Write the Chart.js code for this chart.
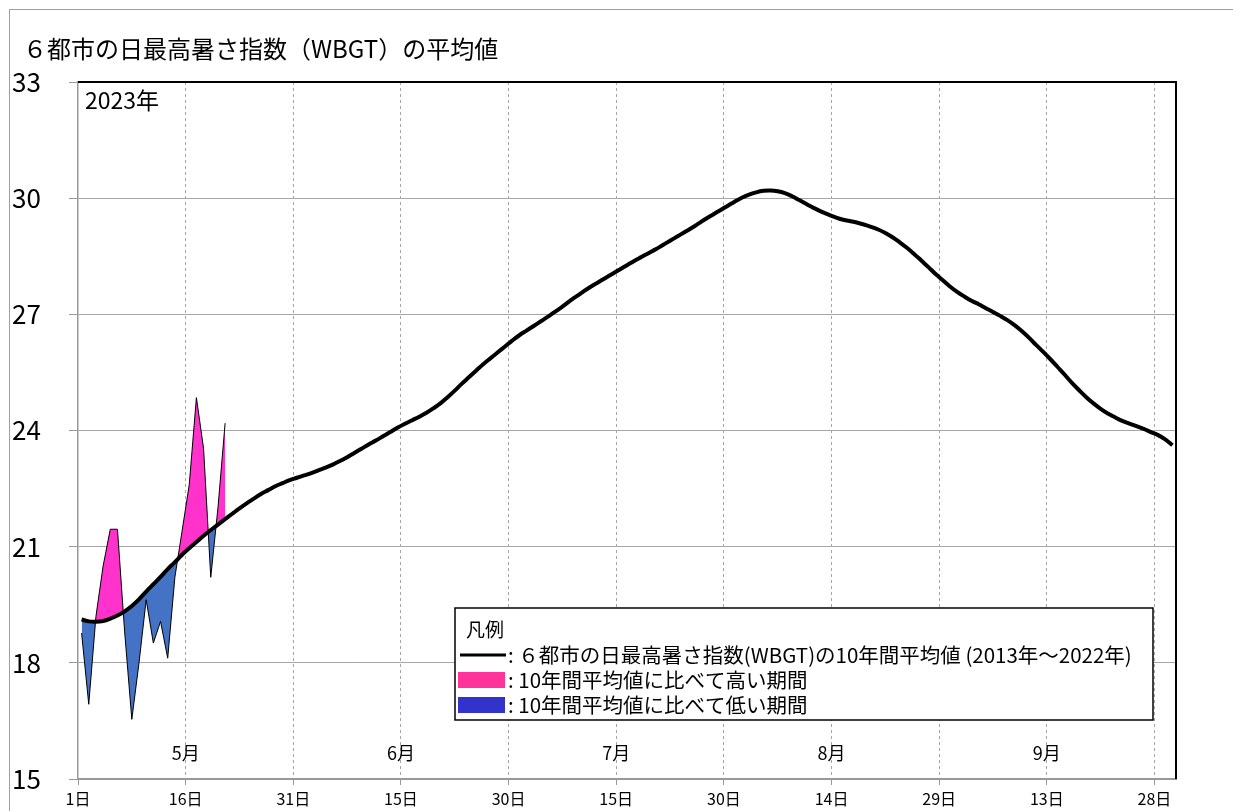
<!DOCTYPE html>
<html><head><meta charset="utf-8">
<script src="https://cdn.jsdelivr.net/npm/chart.js@4"></script>
<style>
html,body{margin:0;padding:0;background:#fff;overflow:hidden;}
#wrap{position:relative;width:1233px;height:811px;}
#frame{position:absolute;left:9px;top:9px;width:1300px;height:900px;border:1px solid #a0a0a0;pointer-events:none;}
canvas{position:absolute;left:0;top:0;}
</style></head><body>
<div id="wrap"><canvas id="c" width="1233" height="811"></canvas><div id="frame"></div></div>
<script>
const titleText = '６都市の日最高暑さ指数（WBGT）の平均値';
const yearText = '2023年';
const tickLabels = ['1日','16日','31日','15日','30日','15日','30日','14日','29日','13日','28日'];
const monthLabels = ['5月','6月','7月','8月','9月'];
const legendTitle = '凡例';
const legendTexts = [
  ': ６都市の日最高暑さ指数(WBGT)の10年間平均値 (2013年～2022年)',
  ': 10年間平均値に比べて高い期間',
  ': 10年間平均値に比べて低い期間'
];
// 10-year average (2013-2022), daily from May 1 to Sep 30
const avgWBGT = [
  19.12,19.07,19.06,19.08,19.14,19.22,19.33,19.47,19.64,19.84,
  20.03,20.22,20.42,20.60,20.79,20.96,21.12,21.28,21.43,21.57,
  21.71,21.85,21.99,22.12,22.24,22.36,22.46,22.56,22.64,22.72,
  22.78,22.84,22.90,22.97,23.04,23.12,23.21,23.31,23.42,23.53,
  23.64,23.74,23.85,23.96,24.07,24.17,24.26,24.35,24.45,24.57,
  24.70,24.86,25.03,25.21,25.38,25.55,25.72,25.87,26.02,26.17,
  26.32,26.46,26.58,26.70,26.82,26.94,27.07,27.20,27.34,27.47,
  27.60,27.72,27.83,27.94,28.05,28.16,28.27,28.38,28.48,28.58,
  28.68,28.79,28.90,29.01,29.12,29.23,29.35,29.47,29.58,29.69,
  29.80,29.91,30.01,30.09,30.15,30.19,30.20,30.18,30.13,30.05,
  29.95,29.85,29.75,29.66,29.58,29.51,29.45,29.41,29.37,29.32,
  29.26,29.19,29.10,28.99,28.86,28.72,28.56,28.39,28.22,28.04,
  27.88,27.72,27.58,27.46,27.35,27.26,27.16,27.06,26.96,26.85,
  26.72,26.57,26.40,26.21,26.03,25.84,25.64,25.44,25.23,25.04,
  24.86,24.70,24.56,24.44,24.34,24.25,24.18,24.11,24.04,23.96,
  23.88,23.77,23.62
];
// 2023 daily values from May 1
const wbgt2023 = [
  18.77,16.93,19.20,20.50,21.45,21.45,18.80,16.54,18.00,19.63,
  18.51,19.07,18.12,20.21,21.40,22.60,24.85,23.53,20.21,22.00,
  24.19
];
const FONT = '"Noto Sans CJK JP","Noto Sans",sans-serif';

const textPlugin = {
  id: 'texts',
  afterDraw(chart) {
    const {ctx, chartArea: a, scales: {x}} = chart;
    ctx.save();
    ctx.strokeStyle = '#000'; ctx.lineWidth = 2;
    ctx.beginPath();
    ctx.moveTo(a.left, a.top); ctx.lineTo(a.right, a.top); ctx.lineTo(a.right, a.bottom);
    ctx.stroke();
    ctx.fillStyle = '#000'; ctx.textBaseline = 'middle'; ctx.textAlign = 'left';
    ctx.font = '24px ' + FONT;
    ctx.fillText(titleText, 23, 49);
    ctx.font = '23px ' + FONT;
    ctx.fillText(yearText, a.left + 7, 100);
    ctx.font = '18px ' + FONT; ctx.textAlign = 'center';
    monthLabels.forEach((m, k) => ctx.fillText(m, x.getPixelForValue((2 * k + 1) * 15), 753));
    // legend box
    ctx.fillStyle = '#fff'; ctx.fillRect(455, 608, 698, 112);
    ctx.strokeStyle = '#000'; ctx.lineWidth = 1.5; ctx.strokeRect(455, 608, 698, 112);
    ctx.fillStyle = '#000'; ctx.textAlign = 'left';
    ctx.font = '19px ' + FONT;
    ctx.fillText(legendTitle, 466, 630);
    ctx.lineWidth = 3; ctx.beginPath(); ctx.moveTo(460, 655); ctx.lineTo(506, 655); ctx.stroke();
    ctx.fillStyle = '#ff3399'; ctx.fillRect(458, 672, 47, 16);
    ctx.fillStyle = '#3333cc'; ctx.fillRect(458, 697, 47, 16);
    ctx.fillStyle = '#000'; ctx.font = '20.5px ' + FONT;
    ctx.fillText(legendTexts[0], 508, 655);
    ctx.fillText(legendTexts[1], 508, 680);
    ctx.fillText(legendTexts[2], 508, 705);
    ctx.restore();
  }
};

new Chart(document.getElementById('c'), {
  type: 'line',
  data: {
    datasets: [
      {
        label: '10年間平均値',
        data: avgWBGT.map((v, i) => ({x: i + 0.5, y: v})),
        borderColor: '#000', borderWidth: 4, pointRadius: 0, tension: 0.4,
        fill: false, order: 0
      },
      {
        label: '2023年',
        data: wbgt2023.map((v, i) => ({x: i + 0.5, y: v})),
        borderColor: '#000', borderWidth: 1, pointRadius: 0, tension: 0,
        fill: {target: 0, above: '#ff33cc', below: '#4472c4'}, order: 1
      }
    ]
  },
  options: {
    responsive: false, devicePixelRatio: 1, animation: false,
    layout: {padding: {top: 82, left: 12, right: 57, bottom: 0}},
    plugins: {legend: {display: false}, tooltip: {enabled: false}, title: {display: false}},
    scales: {
      x: {
        type: 'linear', min: 0, max: 153,
        afterBuildTicks(s) { s.ticks = tickLabels.map((_, k) => ({value: k * 15})); },
        afterFit(s) { s.height = 32; },
        ticks: {
          autoSkip: false, maxRotation: 0, padding: 4, color: '#000',
          font: {size: 16, family: FONT},
          callback: (v, idx) => tickLabels[idx]
        },
        grid: {color: c => (c.tick && c.tick.value === 0) ? 'rgba(0,0,0,0)' : '#a6a6a6', lineWidth: 1, tickLength: 6, tickColor: '#999', tickBorderDash: []},
        border: {color: '#999', width: 2, dash: [3, 3]}
      },
      y: {
        min: 15, max: 33,
        afterFit(s) { s.width = 66; },
        ticks: {stepSize: 3, color: '#000', crossAlign: 'far', font: {size: 26, family: FONT}},
        grid: {color: c => (c.tick && c.tick.value === 33) ? 'rgba(0,0,0,0)' : '#a6a6a6', lineWidth: 1, tickLength: 9, tickColor: '#999'},
        border: {color: '#999', width: 1.5}
      }
    }
  },
  plugins: [textPlugin]
});
</script>
</body></html>
